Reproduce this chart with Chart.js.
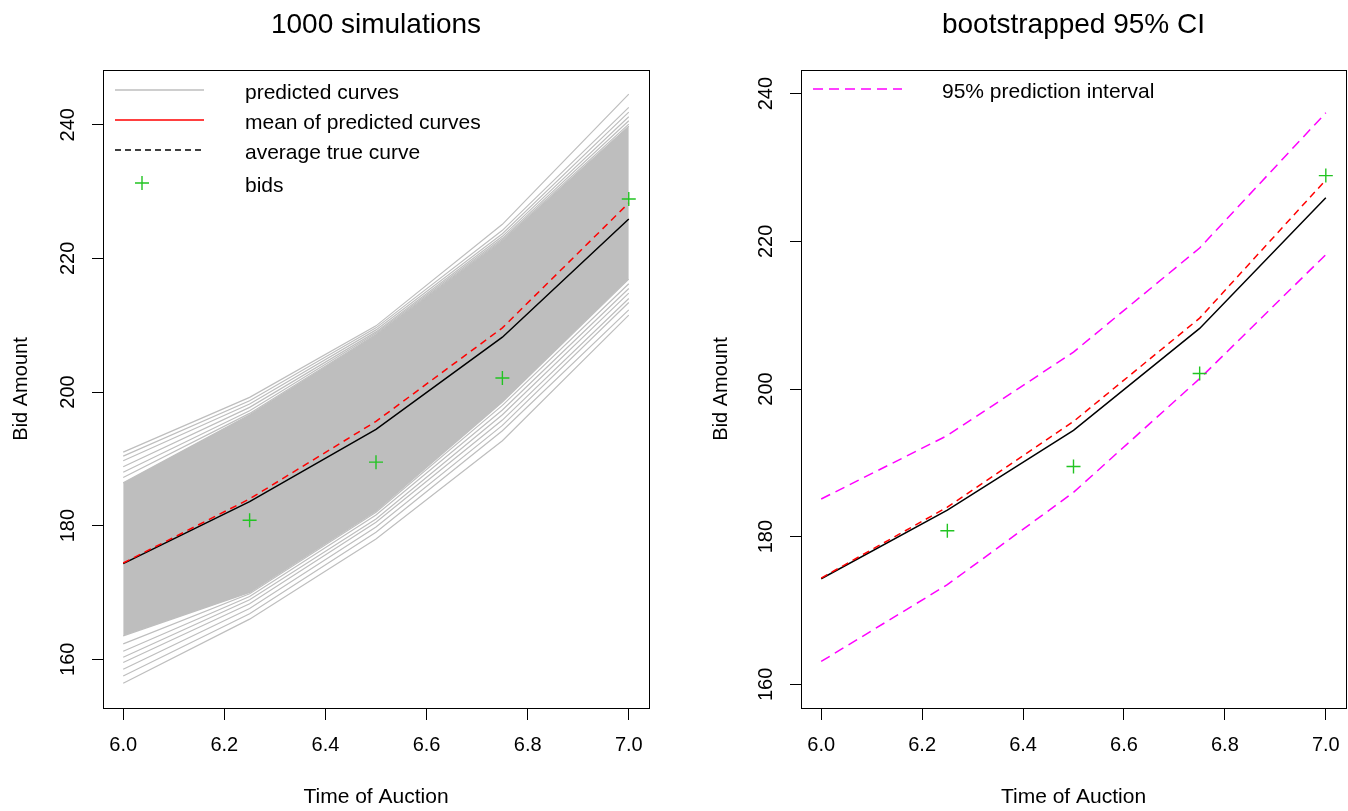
<!DOCTYPE html>
<html>
<head>
<meta charset="utf-8">
<script src="https://cdn.jsdelivr.net/npm/chart.js@4.4.0/dist/chart.umd.min.js"></script>
<style>
  html, body { margin: 0; padding: 0; background: #fff; }
  #wrap { position: relative; width: 1348px; height: 811px; overflow: hidden; }
  canvas { position: absolute; top: 0; }
</style>
</head>
<body>
<div id="wrap">
  <canvas id="sim" width="700" height="811" style="left:0"></canvas>
  <canvas id="ci" width="672" height="811" style="left:700px"></canvas>
</div>
<script>
// time points of the auction
const times = [6.0, 6.25, 6.5, 6.75, 7.0]
const bidTimes = [6.25, 6.5, 6.75, 7.0]
const bids = [180.8, 189.5, 202.1, 228.9]
// solid black and dashed red curves
const trueCurve = [174.3, 183.6, 194.4, 208.2, 225.9]
const meanCurve = [174.4, 184.0, 195.6, 209.6, 228.3]
// dense core of the simulated curves
const coreTop = [186.4, 196.6, 208.5, 222.6, 239.8]
const coreBottom = [163.5, 170.0, 182.2, 198.5, 216.9]
// simulated curves lying outside the core
const simUpper = [
  [191.0, 199.2, 209.9, 225.1, 244.6],
  [190.4, 198.7, 209.6, 224.2, 242.6],
  [189.7, 198.2, 209.3, 223.7, 241.9],
  [188.8, 197.7, 209.0, 223.3, 241.2],
  [188.0, 197.2, 208.8, 223.0, 240.6],
  [187.2, 196.8, 208.6, 222.8, 240.1]
]
const simLower = [
  [156.4, 166.0, 178.0, 192.7, 211.5],
  [157.5, 166.8, 179.0, 194.2, 212.3],
  [158.5, 167.6, 179.8, 195.0, 213.4],
  [159.5, 168.3, 180.5, 195.8, 214.0],
  [160.3, 168.9, 181.0, 196.6, 214.8],
  [161.2, 169.4, 181.6, 197.3, 215.5],
  [162.3, 169.8, 182.0, 198.0, 216.2]
]
// bootstrapped 95% prediction interval
const piUpper = [185.1, 193.7, 205.0, 219.1, 237.4]
const piLower = [163.1, 173.5, 186.0, 201.4, 218.2]

const xTicks = { min: 5.96, max: 7.04, step: 0.2 }
const yLeft = { min: 152.7, max: 248.2 }
const yRight = { min: 156.8, max: 243.2 }

const FONT = '"Liberation Sans", Arial, Helvetica, sans-serif'
const GRAY = '#BEBEBE'
const GREEN = '#22c422'
const RED = '#ff0000'
const MAGENTA = '#ff00ff'

const pts = (xs, ys) => xs.map((x, i) => ({ x, y: ys[i] }))

function lineSet(data, color, dash, width, order, extra) {
  return Object.assign({
    data, borderColor: color, backgroundColor: color, borderWidth: width,
    borderDash: dash || [], pointRadius: 0, tension: 0, fill: false, order
  }, extra || {})
}

function bidSet() {
  return {
    data: pts(bidTimes, bids), showLine: false, pointStyle: 'cross', pointRadius: 7,
    pointBorderColor: GREEN, pointBorderWidth: 1.4, borderColor: GREEN, order: 0
  }
}

// R-like decorations: box, rotated y labels, main title, legend
const rStyle = {
  id: 'rStyle',
  afterDraw(chart, args, opts) {
    const { ctx, chartArea: a } = chart
    const y = chart.scales.y
    ctx.save()
    ctx.strokeStyle = '#000'
    ctx.lineWidth = 1
    ctx.setLineDash([])
    ctx.strokeRect(Math.round(a.left) + 0.5, Math.round(a.top) + 0.5, Math.round(a.right - a.left), Math.round(a.bottom - a.top))

    ctx.fillStyle = '#000'
    ctx.font = '20px ' + FONT
    ctx.textAlign = 'center'
    ctx.textBaseline = 'middle'
    y.ticks.forEach(t => {
      const py = y.getPixelForValue(t.value)
      ctx.save()
      ctx.translate(a.left - 35, py)
      ctx.rotate(-Math.PI / 2)
      ctx.fillText(String(Math.round(t.value)), 0, 0)
      ctx.restore()
    })

    ctx.font = '28px ' + FONT
    ctx.fillText(opts.title, (a.left + a.right) / 2, 25)

    ctx.font = '21px ' + FONT
    ctx.textAlign = 'left'
    const items = opts.items
    for (let i = 0; i < items.length; i++) {
      const it = items[i]
      const ly = a.top + it.dy
      ctx.strokeStyle = it.stroke
      if (it.point) {
        const cx = a.left + 39
        ctx.lineWidth = 1.4
        ctx.setLineDash([])
        ctx.beginPath()
        ctx.moveTo(cx - 7, ly); ctx.lineTo(cx + 7, ly)
        ctx.moveTo(cx, ly - 7); ctx.lineTo(cx, ly + 7)
        ctx.stroke()
      } else {
        ctx.lineWidth = 1.5
        ctx.setLineDash(it.dash ? it.dash.slice() : [])
        ctx.beginPath()
        ctx.moveTo(a.left + 12, ly)
        ctx.lineTo(a.left + 101, ly)
        ctx.stroke()
        ctx.setLineDash([])
      }
      ctx.fillStyle = '#000'
      ctx.fillText(it.text, a.left + opts.textX, ly + 3)
    }
    ctx.restore()
  }
}

function makeChart(id, datasets, yr, yAxisWidth, padRight, title, items, textX) {
  return new Chart(document.getElementById(id), {
    type: 'line',
    data: { datasets },
    plugins: [rStyle],
    options: {
      responsive: false,
      animation: false,
      events: [],
      layout: { padding: { top: 70, right: padRight, left: 0, bottom: 0 } },
      plugins: {
        legend: { display: false },
        tooltip: { enabled: false },
        rStyle: { title, items, textX }
      },
      scales: {
        x: {
          type: 'linear', min: xTicks.min, max: xTicks.max,
          afterFit: s => { s.height = 103 },
          border: { display: true, color: '#000', width: 1 },
          grid: { display: true, drawOnChartArea: false, drawTicks: true, tickLength: 12, color: '#000' },
          ticks: {
            stepSize: xTicks.step, includeBounds: false, maxRotation: 0, autoSkip: false,
            color: '#000', padding: 13, font: { family: FONT, size: 20 },
            callback: v => Number(v).toFixed(1)
          },
          title: { display: true, text: 'Time of Auction', color: '#000', font: { family: FONT, size: 21 }, padding: { top: 0, bottom: 1 } }
        },
        y: {
          type: 'linear', min: yr.min, max: yr.max,
          afterFit: s => { s.width = yAxisWidth },
          border: { display: true, color: '#000', width: 1 },
          grid: { display: true, drawOnChartArea: false, drawTicks: true, tickLength: 11, color: '#000' },
          ticks: { stepSize: 20, includeBounds: false, display: false },
          title: { display: true, text: 'Bid Amount', color: '#000', font: { family: FONT, size: 20 }, padding: { top: 9, bottom: 0 } }
        }
      }
    }
  })
}

// left panel: simulations
const simSets = []
simSets.push(lineSet(pts(times, coreTop), GRAY, [], 1.2, 10, { fill: '+1', backgroundColor: GRAY }))
simSets.push(lineSet(pts(times, coreBottom), GRAY, [], 1.2, 10))
simUpper.concat(simLower).forEach(c => simSets.push(lineSet(pts(times, c), GRAY, [], 1.2, 9)))
simSets.push(lineSet(pts(times, trueCurve), '#000', [], 1.5, 2))
simSets.push(lineSet(pts(times, meanCurve), RED, [7, 5], 1.5, 1))
simSets.push(bidSet())

makeChart('sim', simSets, yLeft, 103, 51, '1000 simulations', [
  { text: 'predicted curves', stroke: GRAY, dy: 20 },
  { text: 'mean of predicted curves', stroke: RED, dy: 50 },
  { text: 'average true curve', stroke: '#000', dash: [6, 4], dy: 80 },
  { text: 'bids', stroke: GREEN, point: true, dy: 113 }
], 142)

// right panel: bootstrapped CI (canvas runs past the page edge on purpose)
const ciSets = [
  lineSet(pts(times, piUpper), MAGENTA, [10, 6], 1.5, 3),
  lineSet(pts(times, piLower), MAGENTA, [10, 6], 1.5, 3),
  lineSet(pts(times, trueCurve), '#000', [], 1.5, 2),
  lineSet(pts(times, meanCurve), RED, [7, 5], 1.5, 1),
  bidSet()
]

makeChart('ci', ciSets, yRight, 101, 26, 'bootstrapped 95% CI', [
  { text: '95% prediction interval', stroke: MAGENTA, dash: [10, 6], dy: 19 }
], 141)
</script>
</body>
</html>
